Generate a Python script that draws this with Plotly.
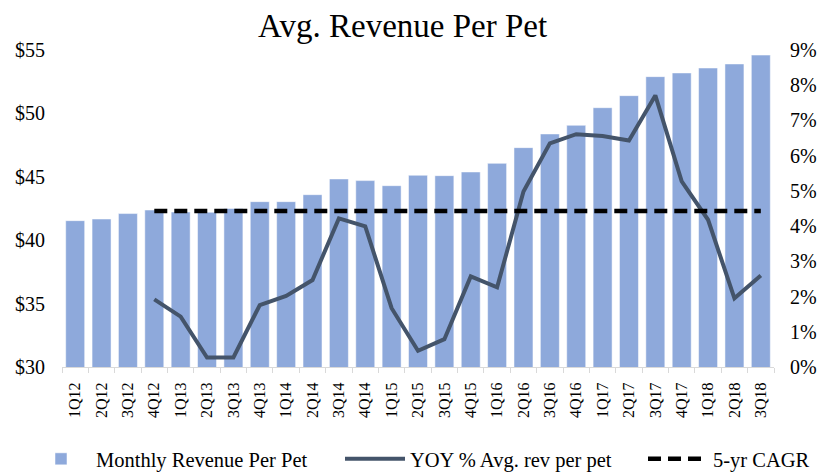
import plotly.graph_objects as go

quarters = ["1Q12","2Q12","3Q12","4Q12","1Q13","2Q13","3Q13","4Q13","1Q14","2Q14","3Q14","4Q14",
            "1Q15","2Q15","3Q15","4Q15","1Q16","2Q16","3Q16","4Q16","1Q17","2Q17","3Q17","4Q17",
            "1Q18","2Q18","3Q18"]
revenue = [41.54, 41.67, 42.1, 42.38, 42.22, 42.2, 42.5, 43.04, 43.04, 43.59, 44.83, 44.7,
           44.3, 45.12, 45.09, 45.38, 46.06, 47.3, 48.38, 49.06, 50.45, 51.4, 52.9, 53.19,
           53.58, 53.9, 54.6]
yoy_quarters = quarters[3:]
yoy_pct = [1.92, 1.43, 0.27, 0.27, 1.76, 2.02, 2.47, 4.22, 3.99, 1.67, 0.46, 0.79, 2.57,
           2.26, 4.98, 6.35, 6.61, 6.56, 6.43, 7.71, 5.27, 4.18, 1.95, 2.6]
cagr_pct = [4.43] * len(yoy_quarters)

font = "Liberation Serif, Times New Roman, serif"

fig = go.Figure()
fig.add_trace(go.Bar(x=quarters, y=revenue, name="Monthly Revenue Per Pet",
                     marker=dict(color="#8EA9DB", line=dict(color="#ffffff", width=0.5)),
                     width=0.72, legend="legend"))
fig.add_trace(go.Scatter(x=yoy_quarters, y=yoy_pct, name="YOY % Avg. rev per pet", yaxis="y2",
                         mode="lines", line=dict(color="#44546A", width=4), legend="legend2"))
fig.add_trace(go.Scatter(x=yoy_quarters, y=cagr_pct, name="5-yr CAGR", yaxis="y2",
                         mode="lines", line=dict(color="#000000", width=4.5, dash="13px,7px"),
                         legend="legend3"))

W, H = 817, 466
leg_common = dict(orientation="h", xref="container", yref="container", y=(H - 451) / H,
                  yanchor="middle", xanchor="left", font=dict(family=font, size=20.5),
                  itemwidth=60, bgcolor="rgba(0,0,0,0)", borderwidth=0)

fig.update_layout(
    width=W, height=H,
    margin=dict(l=54, r=51, t=42, b=107),
    paper_bgcolor="white", plot_bgcolor="white",
    font=dict(family=font, color="#000000", size=18),
    title=dict(text="Avg. Revenue Per Pet", x=0.483, xanchor="center", y=0.962, yanchor="middle",
               font=dict(family=font, size=33, color="#000000")),
    xaxis=dict(type="category", showgrid=False, showline=True, linecolor="#d9d9d9", linewidth=1,
               ticks="outside", tickson="boundaries", ticklen=5, tickcolor="#d9d9d9",
               tickangle=-90, tickfont=dict(family=font, size=16), ticklabelstandoff=8,
               automargin=False),
    yaxis=dict(range=[30, 55], dtick=5, tickprefix="$", showgrid=False, showline=False,
               zeroline=False, ticks="", tickfont=dict(family=font, size=20),
               ticklabelstandoff=16, automargin=False),
    yaxis2=dict(range=[0, 9], dtick=1, ticksuffix="%", overlaying="y", side="right",
                showgrid=False, showline=False, zeroline=False, ticks="",
                tickfont=dict(family=font, size=20), ticklabelstandoff=15, automargin=False),
    legend=dict(leg_common, x=18 / W),
    legend2=dict(leg_common, x=332 / W),
    legend3=dict(leg_common, x=635 / W),
    showlegend=True,
)

fig.write_html("out.html")
